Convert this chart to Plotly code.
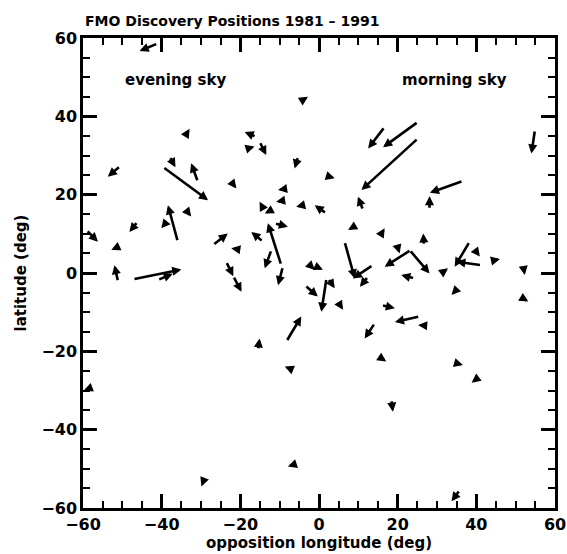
import plotly.graph_objects as go

# arrows: tail (lon, lat) -> head (lon, lat), in degrees
tail_lon = [-41.0, -50.5, -38.0, -30.8, -39.7, -22.3, -33.5, -4.9, -16.0, -15.1, -18.0, -5.3, -14.2, 2.7, -7.9,
            25.2, 25.2, 16.7, 54.9, 36.6, 28.1,
            -35.6, -35.9, -38.4, -33.8, -46.1, -59.2, -51.1, -51.1, -47.3, -41.0, -27.0, -19.7, -23.6, -21.8, -37.6,
            -14.2, -12.1, -8.3, -7.5, -4.1, 1.9, 11.2, -11.3, -9.6, -14.2, -12.1, -9.2, -18.5, -2.8, -0.7, -3.6,
            1.9, 2.3, 4.8, 6.5, 13.7, 12.5, 9.5, 15.9, 23.4, 23.0, 20.1, 15.9, 25.6, 14.2, -8.3, -15.5,
            26.7, 24.3, 31.6, 38.3, 41.3, 40.0, 44.7, 51.9, 51.1, 34.9, 27.7,
            -58.5, -29.1, -7.0, 15.9, 18.4, -5.8, 34.5, 40.0, 35.8, 7.2]
tail_lat = [58.6, 27.3, 29.7, 23.3, 27.1, 23.3, 35.8, 43.7, 34.8, 33.5, 31.8, 29.7, 27.0, 24.6, 21.6,
            38.6, 34.4, 37.3, 36.5, 23.5, 16.3,
            20.5, 8.0, 13.5, 16.1, 13.1, 11.0, 6.7, -2.2, -1.6, -1.8, 7.1, 5.9, 2.9, -0.8, -8.2,
            16.5, 16.1, 18.6, 15.6, 17.3, 15.2, 16.1, 12.7, 2.0, 8.0, 5.9, 1.6, 3.3, 2.5, 1.6, -3.1,
            -1.4, -1.4, -7.3, 8.0, 2.0, -0.9, 12.2, 10.1, 5.9, 5.9, 6.3, -8.2, -11.1, -12.8, -17.5, -19.6,
            7.1, -1.4, 0.3, 8.0, 2.0, 5.4, 3.3, 2.0, -6.0, -4.3, -13.5,
            -29.5, -52.4, -24.6, -21.8, -32.4, -48.7, -22.9, -27.1, -55.4, 20.5]
head_lon = [-45.6, -53.7, -36.5, -32.5, -28.2, -21.0, -32.9, -2.8, -18.9, -13.4, -16.4, -6.2, -13.8, 4.0, -10.4,
            16.3, 10.8, 12.5, 54.0, 28.2, 28.1,
            -35.2, -38.4, -40.1, -32.5, -48.2, -56.2, -52.8, -52.0, -35.0, -37.2, -23.2, -22.3, -21.8, -19.7, -37.1,
            -15.1, -13.8, -10.9, -7.9, -5.8, -1.1, 9.9, -7.9, -13.0, -17.2, -13.8, -10.4, -18.9, -1.1, 1.0, -0.3,
            0.6, 4.0, 6.1, 9.1, 8.6, 10.4, 7.4, 16.7, 16.7, 28.1, 20.5, 19.3, 19.3, 11.6, -4.5, -15.1,
            26.5, 20.9, 32.8, 34.5, 34.9, 40.9, 46.0, 52.3, 53.2, 33.7, 25.2,
            -59.8, -29.9, -8.7, 17.1, 18.8, -7.9, 36.6, 38.8, 33.7, 7.6]
head_lat = [56.7, 24.6, 27.0, 28.0, 18.6, 21.6, 36.8, 45.0, 36.0, 30.1, 32.3, 26.7, 26.5, 24.2, 21.2,
            32.1, 21.2, 31.8, 30.5, 20.5, 19.6,
            20.1, 17.3, 11.4, 14.4, 10.5, 8.0, 5.9, 2.0, 0.9, -0.2, 10.1, 6.3, -0.8, -4.8, -8.8,
            18.2, 15.2, 18.2, 16.5, 16.9, 17.3, 19.5, 11.8, 12.7, 10.5, 1.2, -3.1, 4.2, 0.8, 0.8, -6.0,
            -9.9, -3.9, -9.4, -1.4, -1.4, -3.5, 11.0, 11.4, 1.6, -0.1, 5.0, -9.0, -12.5, -16.7, -11.1, -16.7,
            10.1, -0.5, 1.2, 1.6, 2.9, 4.2, 3.6, -0.5, -7.3, -5.6, -13.3,
            -30.0, -54.5, -23.9, -22.6, -35.4, -49.4, -23.5, -28.0, -58.3, 20.1]

sky_labels = ["evening sky", "morning sky"]
sky_lon = [-36.5, 34.5]
sky_lat = [49.2, 49.2]

FONT = "DejaVu Sans"

fig = go.Figure()
fig.add_trace(go.Scatter(x=head_lon, y=head_lat, mode="markers",
                         marker=dict(size=1, color="rgba(0,0,0,0)"), hoverinfo="skip", showlegend=False))

anns = []
for tx, ty, hx, hy in zip(tail_lon, tail_lat, head_lon, head_lat):
    anns.append(dict(x=hx, y=hy, ax=tx, ay=ty, xref="x", yref="y", axref="x", ayref="y",
                     text="", showarrow=True, arrowhead=2, arrowsize=0.7, arrowwidth=2.6,
                     arrowcolor="black", standoff=0, startstandoff=0))
for t, x, y in zip(sky_labels, sky_lon, sky_lat):
    anns.append(dict(x=x, y=y, xref="x", yref="y", text=t, showarrow=False,
                     font=dict(family=FONT, size=15, color="black", weight="bold")))
anns.append(dict(x=0, y=1, xref="paper", yref="paper", xanchor="left", yanchor="bottom", yshift=7,
                 text="FMO Discovery Positions 1981 \u2013 1991", showarrow=False,
                 font=dict(family=FONT, size=14, color="black", weight="bold")))

minor = dict(dtick=5, ticks="inside", ticklen=7, tickwidth=2, tickcolor="black", showgrid=False)
axis_common = dict(showline=True, linecolor="black", linewidth=2.5, mirror="allticks",
                   ticks="inside", ticklen=14, tickwidth=2.5, tickcolor="black",
                   showgrid=False, zeroline=False, tickmode="linear", tick0=-60, dtick=20,
                   tickfont=dict(family=FONT, size=16, color="black", weight="bold"),
                   minor=minor, range=[-60, 60], automargin=False)

fig.update_layout(
    xaxis=dict(title=dict(text="opposition longitude (deg)", standoff=0,
                          font=dict(family=FONT, size=15, color="black", weight="bold")), **axis_common),
    yaxis=dict(title=dict(text="latitude (deg)", standoff=12,
                          font=dict(family=FONT, size=15, color="black", weight="bold")), **axis_common),
)

fig.update_layout(width=567, height=554, margin=dict(l=83, r=12, t=38, b=46, autoexpand=False),
                  paper_bgcolor="white", plot_bgcolor="white", annotations=anns, showlegend=False)

fig.write_html("out.html", config={"displayModeBar": False},
               post_script="document.body.style.margin='0';document.body.style.overflow='hidden';")
